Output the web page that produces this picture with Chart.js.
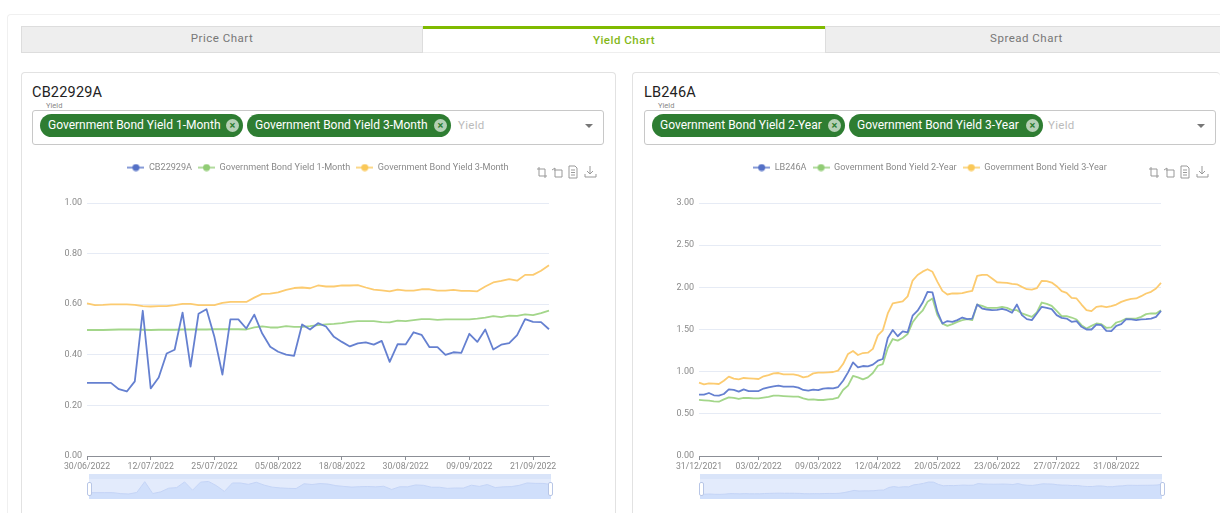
<!DOCTYPE html>
<html>
<head>
<meta charset="utf-8">
<script src="https://cdn.jsdelivr.net/npm/chart.js@4"></script>
<style>
html, body { margin: 0; padding: 0; background: #fff; }
body { width: 1220px; height: 513px; overflow: hidden; position: relative; font-family: Roboto, sans-serif; }
.abs, canvas { position: absolute; }
.outer { left: 7px; top: 14px; width: 1213px; height: 499px; border: 1px solid #f0f0f0; border-right: 0; border-bottom: 0; border-radius: 4px 0 0 0; box-sizing: border-box; }
.tab { top: 26px; height: 27px; background: #eee; border: 1px solid #ddd; box-sizing: border-box; text-align: center; font-size: 11.5px; letter-spacing: .5px; color: #777; line-height: 22px; }
.tab.on { background: #fff; border: 0; border-top: 3px solid #7fba00; border-bottom: 1px solid #eee; color: #84b818; font-weight: 500; line-height: 23px; }
.card { top: 72px; height: 441px; border: 1px solid #e2e2e2; border-bottom: 0; border-radius: 4px 4px 0 0; box-sizing: border-box; }
.title { top: 84px; font-size: 14.5px; letter-spacing: .2px; color: #222; }
.select { top: 110px; width: 572px; height: 35px; border: 1px solid #c8c8c8; border-radius: 3px; box-sizing: border-box; }
.cap { top: 101px; font-size: 7.5px; color: #888; background: #fff; padding: 0 3px; }
.chip { top: 114px; height: 23px; border-radius: 12px; background: #2e7d32; color: #fff; font-size: 12px; line-height: 23px; padding-left: 8px; box-sizing: border-box; white-space: nowrap; }
.chip b { position: absolute; right: 4px; top: 5px; width: 13px; height: 13px; border-radius: 50%; background: #b5d0b6; color: #2e7d32; font-size: 11px; line-height: 13px; text-align: center; }
.ph { top: 118px; font-size: 11.5px; letter-spacing: .3px; color: #bbb; }
.arrow { top: 124px; width: 0; height: 0; border-left: 4px solid transparent; border-right: 4px solid transparent; border-top: 4px solid #777; }
.slider { top: 474px; width: 462px; height: 25px; background: #e3ebfc; }
.band { top: 474px; width: 462px; height: 5px; background: #d9e4f9; }
.handle { top: 482px; width: 3px; height: 12px; background: #fff; border: 1px solid #b8c6e6; border-radius: 2px; }
</style>
</head>
<body>
<div class="abs outer"></div>
<div class="abs tab" style="left:21px;width:402px">Price Chart</div>
<div class="abs tab on" style="left:423px;width:402px">Yield Chart</div>
<div class="abs tab" style="left:825px;width:403px">Spread Chart</div>

<div class="abs card" style="left:21px;width:595px"></div>
<div class="abs card" style="left:632px;width:588px;border-right:0"></div>
<div class="abs title" style="left:32px">CB22929A</div>
<div class="abs title" style="left:644px">LB246A</div>

<div class="abs select" style="left:32px"></div>
<div class="abs cap" style="left:43px">Yield</div>
<div class="abs chip" style="left:40px;width:203px">Government Bond Yield 1-Month<b>×</b></div>
<div class="abs chip" style="left:247px;width:204px">Government Bond Yield 3-Month<b>×</b></div>
<div class="abs ph" style="left:458px">Yield</div>
<div class="abs arrow" style="left:585px"></div>

<div class="abs select" style="left:644px"></div>
<div class="abs cap" style="left:655px">Yield</div>
<div class="abs chip" style="left:652px;width:193px">Government Bond Yield 2-Year<b>×</b></div>
<div class="abs chip" style="left:849px;width:194px">Government Bond Yield 3-Year<b>×</b></div>
<div class="abs ph" style="left:1048px">Yield</div>
<div class="abs arrow" style="left:1197px"></div>

<canvas id="chartLeft" style="left:32px;top:157px"></canvas>
<canvas id="chartRight" style="left:644px;top:157px"></canvas>

<div class="abs slider" style="left:89px"></div>
<div class="abs slider" style="left:700px"></div>
<canvas id="sliderLeft" style="left:89px;top:479px"></canvas>
<canvas id="sliderRight" style="left:700px;top:479px"></canvas>
<div class="abs band" style="left:89px"></div>
<div class="abs band" style="left:700px"></div>
<div class="abs handle" style="left:87px"></div>
<div class="abs handle" style="left:548px"></div>
<div class="abs handle" style="left:699px"></div>
<div class="abs handle" style="left:1160px"></div>

<svg id="toolsLeft" class="abs" style="left:536px;top:165px" width="66" height="14"></svg>
<svg id="toolsRight" class="abs" style="left:1148px;top:165px" width="66" height="14"></svg>

<script>
var leftTicks = ['30/06/2022', '12/07/2022', '25/07/2022', '05/08/2022', '18/08/2022', '30/08/2022', '09/09/2022', '21/09/2022'];
var leftNames = ['CB22929A', 'Government Bond Yield 1-Month', 'Government Bond Yield 3-Month'];
var leftBlue = [.289,.289,.289,.289,.264,.255,.295,.574,.267,.31,.405,.42,.567,.353,.562,.58,.47,.322,.54,.54,.504,.559,.484,.432,.412,.401,.396,.52,.50,.525,.512,.471,.451,.433,.445,.449,.44,.455,.372,.442,.441,.489,.479,.43,.43,.40,.41,.408,.483,.451,.50,.421,.44,.446,.478,.541,.53,.529,.501];
var leftGreen = [.498,.498,.498,.499,.5,.5,.5,.499,.498,.499,.499,.499,.5,.5,.5,.5,.501,.501,.501,.501,.5,.508,.512,.508,.508,.513,.51,.51,.513,.517,.52,.522,.525,.53,.533,.533,.533,.529,.528,.535,.533,.537,.541,.541,.538,.54,.54,.54,.54,.543,.547,.553,.549,.555,.554,.56,.557,.565,.575];
var leftOrange = [.603,.596,.597,.599,.599,.599,.597,.592,.591,.592,.592,.596,.601,.601,.596,.596,.596,.605,.609,.609,.609,.626,.641,.642,.647,.657,.664,.666,.663,.674,.67,.67,.674,.674,.675,.666,.658,.655,.651,.658,.654,.654,.659,.659,.654,.654,.657,.653,.653,.651,.67,.686,.692,.699,.693,.716,.716,.732,.754];

var rightTicks = ['31/12/2021', '03/02/2022', '09/03/2022', '12/04/2022', '20/05/2022', '23/06/2022', '27/07/2022', '31/08/2022'];
var rightNames = ['LB246A', 'Government Bond Yield 2-Year', 'Government Bond Yield 3-Year'];
var rightBlue = [.727,.727,.747,.72,.715,.735,.79,.783,.763,.79,.77,.77,.77,.8,.814,.826,.834,.822,.822,.822,.81,.783,.775,.787,.78,.8,.806,.802,.818,.893,.992,1.11,1.05,1.067,1.063,1.083,1.13,1.15,1.4,1.494,1.42,1.478,1.466,1.664,1.723,1.816,1.947,1.939,1.709,1.571,1.6,1.591,1.611,1.642,1.623,1.63,1.796,1.749,1.737,1.729,1.733,1.745,1.729,1.698,1.796,1.67,1.623,1.611,1.69,1.769,1.757,1.741,1.67,1.638,1.63,1.591,1.6,1.532,1.5,1.5,1.559,1.551,1.484,1.48,1.543,1.563,1.623,1.619,1.611,1.619,1.623,1.63,1.65,1.72];
var rightGreen = [.665,.66,.656,.648,.644,.672,.696,.688,.676,.688,.688,.684,.684,.692,.7,.715,.715,.711,.708,.704,.704,.684,.668,.672,.664,.664,.672,.676,.692,.783,.834,.949,.933,.909,.933,.984,1.07,1.09,1.28,1.387,1.368,1.4,1.447,1.585,1.664,1.723,1.828,1.868,1.67,1.57,1.543,1.563,1.591,1.611,1.623,1.611,1.796,1.78,1.757,1.757,1.757,1.769,1.757,1.729,1.729,1.69,1.67,1.65,1.702,1.82,1.804,1.78,1.721,1.658,1.658,1.642,1.619,1.551,1.512,1.543,1.571,1.563,1.52,1.524,1.583,1.6,1.63,1.63,1.63,1.65,1.682,1.69,1.69,1.729];
var rightOrange = [.87,.85,.862,.858,.854,.893,.941,.917,.909,.925,.921,.917,.913,.945,.96,.98,.984,.968,.968,.968,.957,.933,.945,.98,.988,.988,.992,.996,1.012,1.09,1.21,1.245,1.198,1.221,1.225,1.27,1.43,1.49,1.69,1.81,1.822,1.834,1.893,2.08,2.146,2.186,2.215,2.184,2.065,1.958,1.915,1.927,1.927,1.931,1.947,1.958,2.136,2.148,2.148,2.105,2.06,2.057,2.053,2.04,2.036,2.006,1.978,1.974,1.99,2.077,2.073,2.057,2.014,1.955,1.935,1.875,1.868,1.796,1.729,1.717,1.769,1.777,1.765,1.777,1.796,1.828,1.848,1.864,1.868,1.895,1.927,1.947,1.986,2.053];

var colors = ['#5470c6', '#91cc75', '#fac858'];
var lineColors = ['#6580d0', '#a3d68a', '#fccb70'];
var textColor = '#8a8a8a';

function legendIcon(color) {
    var c = document.createElement('canvas');
    c.width = 17; c.height = 8;
    var g = c.getContext('2d');
    g.strokeStyle = color; g.fillStyle = color; g.lineWidth = 1.4;
    g.beginPath(); g.moveTo(0, 4); g.lineTo(17, 4); g.stroke();
    g.beginPath(); g.arc(8.5, 4, 3.5, 0, Math.PI * 2); g.fill();
    return c;
}

// keep the legend height fixed so the plot top lands on the same pixel in both charts
var legendHeight = {
    id: 'legendHeight',
    beforeInit: function(chart) {
        var fit = chart.legend.fit;
        chart.legend.fit = function() {
            fit.call(this);
            this.height = 46;
        };
    }
};

function renderGraph(id, names, series, ticks, step, yMax, yStep) {
    var target = document.getElementById(id);
    target.width = 572; target.height = 324;
    return new Chart(target, {
        type: 'line',
        data: {
            labels: series[0].map(function(v, i) { return i % step == 0 ? ticks[i / step] : ''; }),
            datasets: series.map(function(values, i) {
                return {
                    label: names[i],
                    data: values,
                    borderColor: lineColors[i],
                    backgroundColor: colors[i],
                    borderWidth: 1.8,
                    borderJoinStyle: 'round',
                    pointRadius: 0,
                    tension: 0,
                    pointStyle: legendIcon(colors[i])
                };
            })
        },
        options: {
            responsive: false,
            animation: false,
            layout: { padding: 0 },
            plugins: {
                tooltip: { enabled: false },
                legend: {
                    labels: {
                        usePointStyle: true,
                        pointStyleWidth: 17,
                        boxHeight: 8,
                        padding: 6,
                        color: textColor,
                        font: { family: 'Roboto', size: 9.1 }
                    }
                }
            },
            scales: {
                x: {
                    afterBuildTicks: function(scale) {
                        scale.ticks = scale.ticks.filter(function(t) { return t.value % step == 0; });
                    },
                    afterFit: function(scale) { scale.height = 25; },
                    border: { color: '#8c8f96' },
                    grid: { drawOnChartArea: false, tickColor: '#8c8f96', tickLength: 4 },
                    ticks: { autoSkip: false, maxRotation: 0, padding: 2, color: textColor, font: { family: 'Roboto', size: 8.7 } }
                },
                y: {
                    min: 0,
                    max: yMax,
                    afterFit: function(scale) { scale.width = 55; },
                    border: { display: false },
                    grid: { color: '#e6ebf5', drawTicks: false },
                    ticks: {
                        stepSize: yStep,
                        padding: 5,
                        color: textColor,
                        font: { family: 'Roboto', size: 9 },
                        callback: function(v) { return v.toFixed(2); }
                    }
                },
                // empty scale on the right, balances the y axis so the legend stays centred on the canvas
                spacer: {
                    position: 'right',
                    afterFit: function(scale) { scale.width = 55; },
                    border: { display: false },
                    grid: { display: false },
                    ticks: { display: false }
                }
            }
        },
        plugins: [legendHeight]
    });
}

function renderSlider(id, values, yMin, yMax) {
    var target = document.getElementById(id);
    target.width = 462; target.height = 20;
    return new Chart(target, {
        type: 'line',
        data: {
            labels: values.map(function(v, i) { return i; }),
            datasets: [{ data: values, fill: 'start', borderColor: '#c4d4f6', backgroundColor: '#d0dffb', borderWidth: 1, pointRadius: 0 }]
        },
        options: {
            responsive: false,
            animation: false,
            plugins: { legend: { display: false }, tooltip: { enabled: false } },
            scales: { x: { display: false }, y: { display: false, min: yMin, max: yMax } }
        }
    });
}

function drawTools(id) {
    var icons = [
        'M3 2V11H11M1 4H9V13',
        'M18 5H26V12H19V3L16 5',
        'M33 1H39L41 3V13H33ZM35 5H39M35 7.5H39M35 10H39',
        'M54 1V9M51 6L54 9L57 6M49 9V12H60V9'
    ];
    document.getElementById(id).innerHTML = icons.map(function(d) {
        return '<path d="' + d + '" fill="none" stroke="#999" stroke-width="1"/>';
    }).join('');
}

renderGraph('chartLeft', leftNames, [leftBlue, leftGreen, leftOrange], leftTicks, 8, 1, 0.2);
renderGraph('chartRight', rightNames, [rightBlue, rightGreen, rightOrange], rightTicks, 12, 3, 0.5);
renderSlider('sliderLeft', leftBlue, 0.125, 0.643);
renderSlider('sliderRight', rightBlue, 0.25, 2.25);
drawTools('toolsLeft');
drawTools('toolsRight');
</script>
</body>
</html>
